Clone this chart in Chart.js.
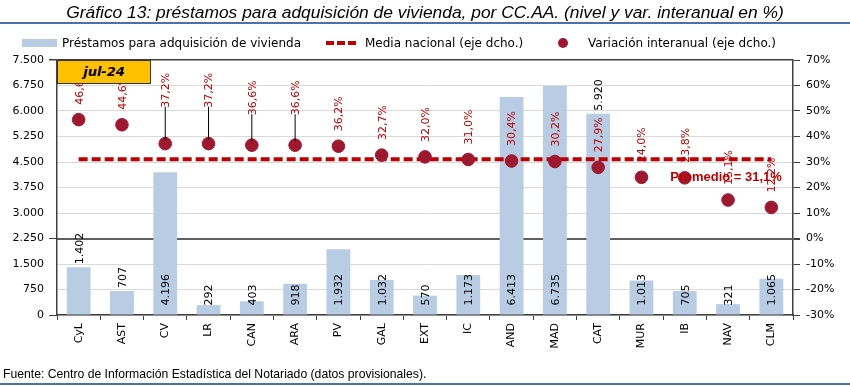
<!DOCTYPE html>
<html>
<head>
<meta charset="utf-8">
<script src="https://cdn.jsdelivr.net/npm/chart.js@4"></script>
<style>
  body { margin: 0; background: #fff; }
  #caja { position: relative; width: 850px; height: 386px; overflow: hidden; font-family: "DejaVu Sans", sans-serif; }
  #grafico13 { position: absolute; left: 0; top: 0; }
  .abs { position: absolute; white-space: nowrap; }
  #titulo { left: 0; width: 850px; top: 2px; text-align: center; font: italic 17.4px "Liberation Sans Narrow", sans-serif; color: #000; }
  .linea { left: 0; width: 850px; height: 2px; background: #4a72a8; }
  .ley { font-size: 12px; top: 35px; line-height: 16px; color: #000; }
  #fecha { left: 57px; top: 60px; width: 92px; height: 22px; background: #ffc000; border: 1px solid #333;
           text-align: center; font: bold italic 13px "DejaVu Sans", sans-serif; line-height: 22px; }
  #fuente { left: 3px; top: 367px; font: 12.2px "Liberation Sans Narrow", sans-serif; }
</style>
</head>
<body>
<div id="caja">
  <canvas id="grafico13" width="850" height="386"></canvas>
  <div class="abs" id="titulo">Gráfico 13: préstamos para adquisición de vivienda, por CC.AA. (nivel y var. interanual en %)</div>
  <div class="abs linea" style="top:22px"></div>
  <div class="abs" style="left:22px;top:39px;width:35px;height:8px;background:#b8cce4"></div>
  <div class="abs ley" style="left:62px">Préstamos para adquisición de vivienda</div>
  <div class="abs" style="left:326px;top:41px;width:8px;height:4px;background:#c00000"></div>
  <div class="abs" style="left:337px;top:41px;width:8px;height:4px;background:#c00000"></div>
  <div class="abs" style="left:348px;top:41px;width:8px;height:4px;background:#c00000"></div>
  <div class="abs ley" style="left:365px">Media nacional (eje dcho.)</div>
  <div class="abs" style="left:558px;top:38px;width:10px;height:10px;border-radius:5px;background:#a0182f"></div>
  <div class="abs ley" style="left:588px">Variación interanual (eje dcho.)</div>
  <div class="abs" id="fecha">jul-24</div>
  <div class="abs" id="fuente">Fuente: Centro de Información Estadística del Notariado (datos provisionales).</div>
  <div class="abs linea" style="top:383px"></div>
</div>
<script>
// datos (jul-24)
const categorias = ['CyL', 'AST', 'CV', 'LR', 'CAN', 'ARA', 'PV', 'GAL', 'EXT', 'IC', 'AND', 'MAD', 'CAT', 'MUR', 'IB', 'NAV', 'CLM'];
const prestamos = [1402, 707, 4196, 292, 403, 918, 1932, 1032, 570, 1173, 6413, 6735, 5920, 1013, 705, 321, 1065];
const variacion = [46.6, 44.6, 37.2, 37.2, 36.6, 36.6, 36.2, 32.7, 32.0, 31.0, 30.4, 30.2, 27.9, 24.0, 23.8, 15.1, 12.2];
const mediaNacional = 31.1;
const ejeIzq = { min: 0, max: 7500, paso: 750 };
const ejeDer = { min: -30, max: 70, paso: 10 };

// donde va la etiqueta de cada barra y cuanto se separa la de cada punto
const posEtiquetaBarra = ['fin', 'fin', 'base', 'base', 'base', 'base', 'base', 'base', 'base', 'base', 'base', 'base', 'fin', 'base', 'base', 'base', 'base'];
const elevarEtiqueta = [0, 0, 21, 21, 15, 15, 0, 0, 0, 0, 0, 0, 0, 0, 0, 0, 0];

const fmtMiles = v => String(v).replace(/\B(?=(\d{3})+(?!\d))/g, '.');
const fmtPct = v => v.toFixed(1).replace('.', ',') + '%';

const FUENTE = '"DejaVu Sans", sans-serif';
const OSCURO = '#404040';

const etiquetas = {
  id: 'etiquetas',
  afterDatasetsDraw(chart) {
    const ctx = chart.ctx;
    const barras = chart.getDatasetMeta(0).data;
    const puntos = chart.getDatasetMeta(2).data;
    ctx.save();
    ctx.font = '11px ' + FUENTE;
    ctx.textBaseline = 'middle';
    ctx.textAlign = 'left';

    // valores de las barras
    ctx.fillStyle = '#000';
    barras.forEach((b, i) => {
      const y0 = posEtiquetaBarra[i] === 'fin' ? b.y - 3 : b.base - 9;
      ctx.save();
      ctx.translate(b.x + 1, y0);
      ctx.rotate(-Math.PI / 2);
      ctx.fillText(fmtMiles(prestamos[i]), 0, 0);
      ctx.restore();
    });

    // variacion interanual
    puntos.forEach((p, i) => {
      const y0 = p.y - 15 - elevarEtiqueta[i];
      if (elevarEtiqueta[i] > 0) {
        ctx.strokeStyle = '#000';
        ctx.lineWidth = 1;
        ctx.beginPath();
        ctx.moveTo(p.x, y0 - 1);
        ctx.lineTo(p.x, p.y - 4);
        ctx.stroke();
      }
      ctx.fillStyle = '#c00000';
      ctx.save();
      ctx.translate(p.x + 1, y0);
      ctx.rotate(-Math.PI / 2);
      ctx.fillText(fmtPct(variacion[i]), 0, 0);
      ctx.restore();
    });

    // rotulo de la media
    const x = chart.scales.x.getPixelForValue(15);
    const y = chart.scales.y1.getPixelForValue(mediaNacional) + 18;
    ctx.font = 'bold 13px "Liberation Sans", sans-serif';
    ctx.textAlign = 'center';
    ctx.fillStyle = '#c00000';
    ctx.fillText('Promedio = ' + fmtPct(mediaNacional), x - 2, y);
    ctx.restore();
  }
};

new Chart(document.getElementById('grafico13'), {
  type: 'bar',
  data: {
    labels: categorias,
    datasets: [{
      label: 'Préstamos para adquisición de vivienda',
      data: prestamos,
      yAxisID: 'y',
      backgroundColor: '#b8cce4',
      categoryPercentage: 1,
      barPercentage: 0.55,
      order: 3
    }, {
      type: 'line',
      label: 'Media nacional (eje dcho.)',
      data: categorias.map(() => mediaNacional),
      yAxisID: 'y1',
      borderColor: '#c00000',
      borderWidth: 4,
      borderDash: [9, 4],
      pointRadius: 0,
      order: 2
    }, {
      type: 'line',
      label: 'Variación interanual (eje dcho.)',
      data: variacion,
      yAxisID: 'y1',
      showLine: false,
      pointRadius: 6.3,
      pointBackgroundColor: '#a0182f',
      pointBorderColor: '#a0182f',
      order: 1
    }]
  },
  options: {
    responsive: false,
    animation: false,
    layout: { padding: { top: 60, left: 0, right: 0, bottom: 0 } },
    plugins: {
      legend: { display: false },
      tooltip: { enabled: false }
    },
    scales: {
      x: {
        afterFit: s => { s.height = 71; },
        grid: { offset: true, drawOnChartArea: false, color: OSCURO, tickLength: 5 },
        border: { color: OSCURO, width: 1.5 },
        ticks: { color: '#000', font: { family: FUENTE, size: 11 }, minRotation: 90, maxRotation: 90, padding: 3 }
      },
      y: {
        position: 'left',
        min: ejeIzq.min,
        max: ejeIzq.max,
        afterFit: s => { s.width = 57; },
        grid: {
          color: c => c.tick.value === ejeIzq.max ? OSCURO : '#d9d9d9',
          lineWidth: c => c.tick.value === ejeIzq.max ? 1.5 : 1,
          tickColor: c => [0, 2250, 7500].includes(c.tick.value) ? OSCURO : 'transparent',
          tickLength: 8
        },
        border: { color: OSCURO, width: 1.5 },
        ticks: {
          stepSize: ejeIzq.paso,
          color: '#000',
          padding: 5,
          font: { family: FUENTE, size: 11 },
          callback: v => fmtMiles(v)
        }
      },
      y1: {
        position: 'right',
        min: ejeDer.min,
        max: ejeDer.max,
        afterFit: s => { s.width = 57; },
        grid: {
          color: c => c.tick.value === 0 ? '#5f5f5f' : 'transparent',
          lineWidth: c => c.tick.value === 0 ? 2 : 1,
          tickColor: OSCURO,
          tickLength: 7
        },
        border: { color: OSCURO, width: 1.5 },
        ticks: {
          stepSize: ejeDer.paso,
          color: '#000',
          padding: 6,
          font: { family: FUENTE, size: 11 },
          callback: v => v + '%'
        }
      }
    }
  },
  plugins: [etiquetas]
});
</script>
</body>
</html>
